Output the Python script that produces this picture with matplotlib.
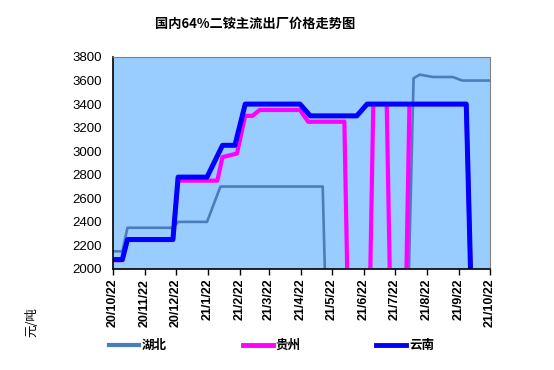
#!/usr/bin/env python3
"""
Domestic 64% DAP mainstream ex-factory price trend, three provinces.
"""
import pandas as pd
import matplotlib
matplotlib.use("Agg")
import matplotlib.pyplot as plt
from matplotlib.lines import Line2D

plt.rcParams["font.family"] = ["Liberation Sans", "Noto Sans CJK SC", "DejaVu Sans"]

# 湖北
hubei_dates = ["2020-10-22", "2020-10-31", "2020-11-05", "2020-12-19", "2020-12-24",
               "2021-01-21", "2021-02-03", "2021-05-13", "2021-05-21", "2021-07-30",
               "2021-08-09", "2021-08-15", "2021-08-28", "2021-09-16", "2021-09-25",
               "2021-10-22"]
hubei_vals = [2150, 2150, 2350, 2350, 2400, 2400, 2700, 2700, 0, 0,
              3620, 3650, 3630, 3630, 3600, 3600]

# 贵州
guizhou_dates = ["2020-10-22", "2020-10-31", "2020-11-05", "2020-12-19", "2020-12-24",
                 "2021-01-31", "2021-02-05", "2021-02-19", "2021-02-27", "2021-03-06",
                 "2021-03-13", "2021-04-21", "2021-04-29", "2021-06-03", "2021-06-10",
                 "2021-06-24", "2021-07-01", "2021-07-14", "2021-07-21", "2021-07-29",
                 "2021-08-05", "2021-09-29", "2021-10-09", "2021-10-22"]
guizhou_vals = [2075, 2075, 2250, 2250, 2750, 2750, 2950, 2980, 3300, 3300,
                3350, 3350, 3250, 3250, 0, 0, 3400, 3400, 0, 0,
                3400, 3400, 0, 0]

# 云南
yunnan_dates = ["2020-10-22", "2020-10-31", "2020-11-05", "2020-12-19", "2020-12-24",
                "2021-01-21", "2021-02-05", "2021-02-17", "2021-02-27", "2021-04-21",
                "2021-05-01", "2021-06-15", "2021-06-25", "2021-09-29", "2021-10-09",
                "2021-10-22"]
yunnan_vals = [2080, 2080, 2250, 2250, 2780, 2780, 3050, 3050, 3400, 3400,
               3300, 3300, 3400, 3400, 0, 0]

tick_labels = ["20/10/22", "20/11/22", "20/12/22", "21/1/22", "21/2/22", "21/3/22",
               "21/4/22", "21/5/22", "21/6/22", "21/7/22", "21/8/22", "21/9/22",
               "21/10/22"]


def main():
    tick_dates = pd.to_datetime(tick_labels, format="%y/%m/%d")

    fig = plt.figure(figsize=(5.54, 3.70), dpi=100)
    ax = fig.add_axes([0.204, 0.273, 0.6805, 0.573])
    ax.set_facecolor("#99ccff")

    ax.plot(pd.to_datetime(hubei_dates), hubei_vals, color="#4a7ebb", lw=1.9,
            solid_joinstyle="round")
    ax.plot(pd.to_datetime(guizhou_dates), guizhou_vals, color="#ff00ff", lw=3.0,
            solid_joinstyle="round")
    ax.plot(pd.to_datetime(yunnan_dates), yunnan_vals, color="#0000ff", lw=3.6,
            solid_joinstyle="round")

    ax.set_xlim(pd.Timestamp("2020-10-22"), pd.Timestamp("2021-10-22"))
    ax.set_ylim(2000, 3800)
    ax.set_yticks(range(2000, 3801, 200))
    ax.tick_params(axis="y", length=0, pad=8, labelsize=9.5)
    ax.set_xticks(tick_dates)
    ax.set_xticklabels(tick_labels, rotation=90, fontsize=9, fontweight="bold")
    ax.tick_params(axis="x", direction="out", length=4, width=1, pad=3)

    for side in ("top", "right"):
        ax.spines[side].set_color("#808080")
    for side in ("left", "bottom"):
        ax.spines[side].set_color("black")
        ax.spines[side].set_linewidth(1.2)

    fig.text(0.46, 0.935, "国内64%二铵主流出厂价格走势图", ha="center", va="center",
             fontsize=9.5, fontweight="bold",
             family=["Noto Sans CJK SC", "DejaVu Sans"])
    fig.text(0.058, 0.13, "元/吨", rotation=90, ha="center", va="center",
             fontsize=9, family=["Noto Sans CJK SC", "DejaVu Sans"])

    handles = [
        Line2D([], [], color="#4a7ebb", lw=3),
        Line2D([], [], color="#ff00ff", lw=3.5),
        Line2D([], [], color="#0000ff", lw=3.5),
    ]
    fig.legend(handles, ["湖北", "贵州", "云南"], loc="center",
               bbox_to_anchor=(0.49, 0.066), ncol=3, frameon=False,
               handlelength=2.4, handletextpad=0.2, columnspacing=6.1,
               prop={"family": "Noto Sans CJK SC", "weight": "bold", "size": 9})

    fig.savefig("out.png", dpi=100)


if __name__ == "__main__":
    main()
